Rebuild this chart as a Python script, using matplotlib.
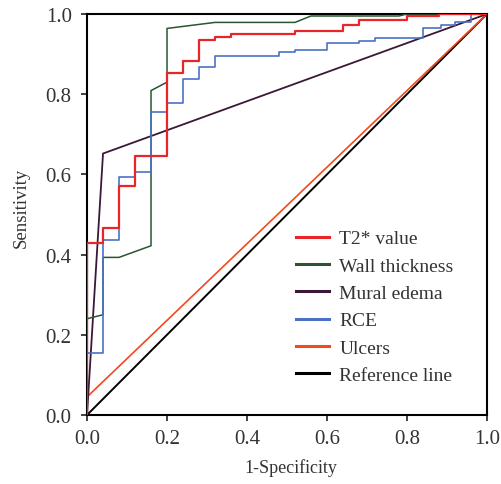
import matplotlib
matplotlib.use("Agg")
import matplotlib.pyplot as plt

plt.rcParams['font.family'] = ['Liberation Serif', 'DejaVu Serif']

# T2* value (step curve, steps-post corners)
t2_fpr = [0, 0, 0.04, 0.08, 0.12, 0.20, 0.24, 0.28, 0.32, 0.36, 0.52, 0.64, 0.68, 0.80, 0.88, 1.0]
t2_tpr = [0, 0.43, 0.466, 0.570, 0.645, 0.853, 0.883, 0.935, 0.943, 0.951, 0.958, 0.973, 0.986, 0.996, 1.0, 1.0]

# Wall thickness (polyline)
wall_fpr = [0, 0, 0.04, 0.04, 0.08, 0.16, 0.16, 0.20, 0.20, 0.32, 0.52, 0.56, 0.78, 0.80, 1.0]
wall_tpr = [0, 0.24, 0.25, 0.393, 0.393, 0.422, 0.809, 0.83, 0.964, 0.979, 0.979, 0.995, 0.995, 1.0, 1.0]

# Mural edema
mural_fpr = [0, 0.04, 1.0]
mural_tpr = [0, 0.652, 1.0]

# RCE (step curve, steps-post corners)
rce_fpr = [0, 0, 0.04, 0.08, 0.12, 0.16, 0.20, 0.24, 0.28, 0.32, 0.48, 0.52, 0.60, 0.68, 0.72, 0.84, 0.885, 0.92, 0.96, 1.0]
rce_tpr = [0, 0.155, 0.437, 0.593, 0.607, 0.756, 0.778, 0.838, 0.867, 0.896, 0.906, 0.910, 0.927, 0.933, 0.941, 0.964, 0.973, 0.979, 1.0, 1.0]

# Ulcers
ulc_fpr = [0, 1.0]
ulc_tpr = [0.045, 1.0]

# Reference line
ref_fpr = [0, 1.0]
ref_tpr = [0, 1.0]

labels = ["T2* value", "Wall thickness", "Mural edema", "RCE", "Ulcers", "Reference line"]
colors = ["#e8262a", "#2a5530", "#3a1838", "#4a72c4", "#f04a1e", "#000000"]
ticks = [0.0, 0.2, 0.4, 0.6, 0.8, 1.0]
tick_labels = ["0.0", "0.2", "0.4", "0.6", "0.8", "1.0"]

fig = plt.figure(figsize=(5.01, 4.85), dpi=100)
ax = fig.add_axes([0.1737, 0.1423, 0.7983, 0.8268])

ax.plot(ref_fpr, ref_tpr, color=colors[5], lw=1.4, label=labels[5], zorder=2)
ax.plot(ulc_fpr, ulc_tpr, color=colors[4], lw=1.2, label=labels[4], zorder=2)
ax.plot(mural_fpr, mural_tpr, color=colors[2], lw=1.3, label=labels[2], zorder=3)
ax.plot(wall_fpr, wall_tpr, color=colors[1], lw=1.1, label=labels[1], zorder=3)
ax.plot(rce_fpr, rce_tpr, color=colors[3], lw=1.2, drawstyle='steps-post', label=labels[3], zorder=4)
ax.plot(t2_fpr, t2_tpr, color=colors[0], lw=1.6, drawstyle='steps-post', label=labels[0], zorder=5)

ax.set_xlim(0, 1)
ax.set_ylim(0, 1)
ax.set_xticks(ticks)
ax.set_xticklabels(tick_labels)
ax.set_yticks(ticks)
ax.set_yticklabels(tick_labels)
ax.tick_params(direction='out', length=4, width=1.2, labelsize=15, colors='#222222', labelcolor='#333333')
ax.tick_params(axis='x', pad=6)
ax.tick_params(axis='y', pad=7)
for s in ax.spines.values():
    s.set_linewidth(1.5)
ax.set_xlabel("1-Specificity", fontsize=13, color='#333333')
ax.set_ylabel("Sensitivity", fontsize=13.5, color='#333333')
ax.xaxis.set_label_coords(0.51, -0.107)
ax.yaxis.set_label_coords(-0.1425, 0.52)

handles, labs = ax.get_legend_handles_labels()
order = [labs.index(l) for l in labels]
leg = ax.legend([handles[i] for i in order], [labs[i] for i in order],
                loc='upper left', bbox_to_anchor=(0.522, 0.462), frameon=False,
                borderpad=0, borderaxespad=0,
                fontsize=14, handlelength=1.73, handletextpad=0.5, labelspacing=0.5)
for h in leg.get_lines():
    h.set_linewidth(2.2)
for t in leg.get_texts():
    t.set_color('#333333')

fig.savefig("out.png", dpi=100)
